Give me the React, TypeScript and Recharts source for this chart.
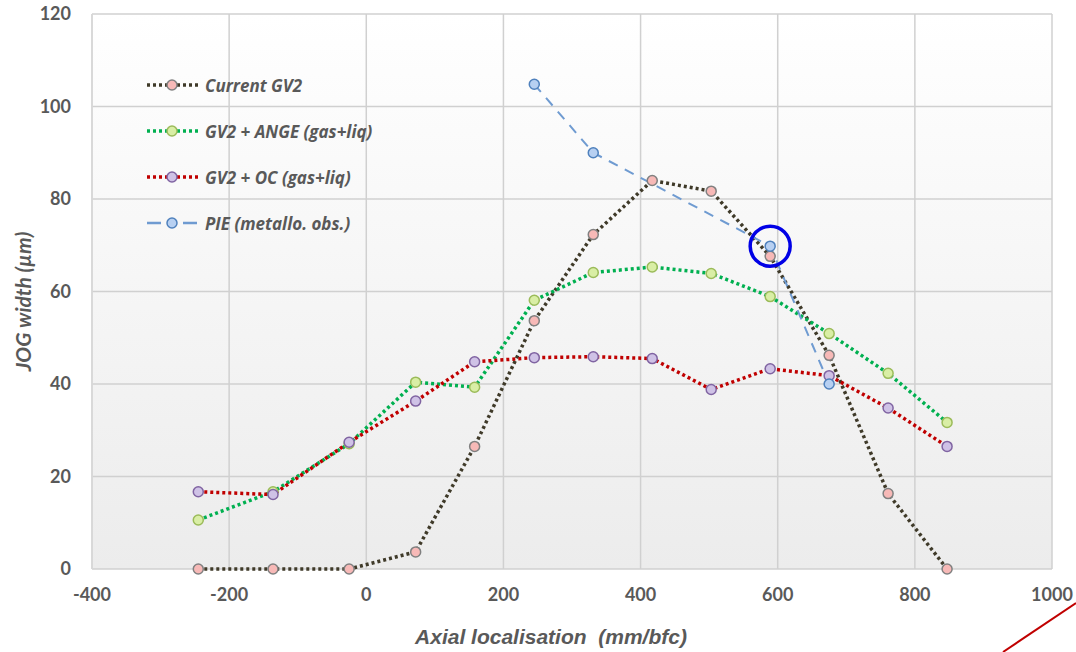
import React from 'react';
import {
  LineChart,
  Line,
  XAxis,
  YAxis,
  CartesianGrid,
  ReferenceDot,
  Label,
} from 'recharts';

const positions = [-245, -136, -25, 72, 158, 245, 331, 417, 503, 589, 675, 761, 847];
const currentGV2 = [0, 0, 0, 3.7, 26.5, 53.7, 72.3, 84, 81.7, 67.6, 46.2, 16.3, 0];
const angeGV2 = [10.6, 16.7, 27.1, 40.4, 39.3, 58.1, 64.1, 65.3, 63.9, 58.9, 50.9, 42.3, 31.7];
const ocGV2 = [16.7, 16.1, 27.4, 36.3, 44.8, 45.7, 45.9, 45.5, 38.8, 43.3, 41.8, 34.8, 26.5];
const piePositions = [245, 331, 589, 675];
const pieValues = [104.8, 90, 69.8, 40];
const highlightPos = 589;
const highlightVal = 69.8;

const xTicks = [-400, -200, 0, 200, 400, 600, 800, 1000];
const yTicks = [0, 20, 40, 60, 80, 100, 120];

const FONT = 'Lato, "Open Sans", sans-serif';
const LEGEND_FONT = '"Open Sans", Lato, sans-serif';
const ARIAL = '"Liberation Sans", Arial, sans-serif';
const TEXT = '#595959';

const toRows = (xs: number[], ys: number[]) => xs.map((x, i) => ({ x, y: ys[i] }));

const seriesList = [
  { name: 'Current GV2', data: toRows(positions, currentGV2), stroke: '#3f3a29', dash: '3 3', width: 3.5, fill: '#f7b9b7', dotStroke: '#808080' },
  { name: 'GV2 + ANGE (gas+liq)', data: toRows(positions, angeGV2), stroke: '#00b050', dash: '3 3', width: 3.5, fill: '#d9eea5', dotStroke: '#9bbb59' },
  { name: 'GV2 + OC (gas+liq)', data: toRows(positions, ocGV2), stroke: '#c00000', dash: '3 3', width: 3.5, fill: '#cfc2e6', dotStroke: '#8064a2' },
  { name: 'PIE (metallo. obs.)', data: toRows(piePositions, pieValues), stroke: '#6f9bd1', dash: '10 8', width: 2, fill: '#b7d0f2', dotStroke: '#4f81bd' },
];

const ChartLegend = () => (
  <div style={{ position: 'absolute', left: 145, top: 62, fontFamily: LEGEND_FONT }}>
    {seriesList.map((s) => {
      const dashed = s.name.startsWith('PIE');
      return (
        <div key={s.name} style={{ display: 'flex', alignItems: 'center', height: 46 }}>
          <svg width={58} height={14} style={{ marginRight: 2 }}>
            {dashed ? (
              <>
                <line x1={2} y1={7} x2={16} y2={7} stroke={s.stroke} strokeWidth={2.5} />
                <line x1={38} y1={7} x2={52} y2={7} stroke={s.stroke} strokeWidth={2.5} />
              </>
            ) : (
              <line x1={2} y1={7} x2={54} y2={7} stroke={s.stroke} strokeWidth={s.width} strokeDasharray="3 3" />
            )}
            <circle cx={27} cy={7} r={5} fill={s.fill} stroke={s.dotStroke} strokeWidth={1.5} />
          </svg>
          <span style={{ fontSize: 17, fontStyle: 'italic', fontWeight: 700, color: TEXT }}>{s.name}</span>
        </div>
      );
    })}
  </div>
);

export default function App() {
  return (
    <div style={{ position: 'absolute', left: 0, top: 0, width: 1076, height: 652, background: '#fff' }}>
      <LineChart width={1076} height={652} margin={{ top: 14, right: 24, bottom: 23, left: 12 }}>
        <defs>
          <linearGradient id="plotBg" x1="0" y1="0" x2="0" y2="1">
            <stop offset="0%" stopColor="#ffffff" />
            <stop offset="100%" stopColor="#ececec" />
          </linearGradient>
        </defs>
        <CartesianGrid stroke="#d0d0d0" strokeWidth={1.5} fill="url(#plotBg)" fillOpacity={1} />
        <XAxis
          type="number"
          dataKey="x"
          domain={[-400, 1000]}
          ticks={xTicks}
          height={60}
          tickSize={0}
          tickMargin={19}
          axisLine={false}
          tick={{ fill: TEXT, fontSize: 18, fontWeight: 700, fontFamily: FONT }}
        >
          <Label
            content={(props: any) => {
              const { x, y, width } = props.viewBox;
              return (
                <text x={x + width / 2 - 21} y={y + 67} textAnchor="middle" dominantBaseline="central"
                  fill={TEXT} fontSize={21} fontWeight={700} fontStyle="italic" fontFamily={ARIAL}
                  style={{ whiteSpace: 'pre' }}>
                  {'Axial localisation  (mm/bfc)'}
                </text>
              );
            }}
          />
        </XAxis>
        <YAxis
          type="number"
          domain={[0, 120]}
          ticks={yTicks}
          width={80}
          tickSize={0}
          tickMargin={21}
          axisLine={{ stroke: '#d9d9d9', strokeWidth: 1.5 }}
          tick={{ fill: TEXT, fontSize: 18, fontWeight: 700, fontFamily: FONT }}
        >
          <Label
            content={(props: any) => {
              const { x, y, height } = props.viewBox;
              const cx = x + 10;
              const cy = y + height / 2 + 10;
              return (
                <text x={cx} y={cy} transform={`rotate(-90, ${cx}, ${cy})`} textAnchor="middle" dominantBaseline="central"
                  fill={TEXT} fontSize={21} fontWeight={700} fontStyle="italic" fontFamily={FONT}>
                  JOG width (µm)
                </text>
              );
            }}
          />
        </YAxis>
        {seriesList.map((s) => (
          <Line
            key={s.name}
            data={s.data}
            dataKey="y"
            name={s.name}
            type="linear"
            stroke={s.stroke}
            strokeWidth={s.width}
            strokeDasharray={s.dash}
            dot={{ r: 5, fill: s.fill, stroke: s.dotStroke, strokeWidth: 1.5, strokeDasharray: 'none' }}
            activeDot={false}
            isAnimationActive={false}
          />
        ))}
        <ReferenceDot x={highlightPos} y={highlightVal} r={20} fill="none" stroke="#0000e6" strokeWidth={3.5} ifOverflow="visible" />
      </LineChart>
      <ChartLegend />
      <svg width={1076} height={652} style={{ position: 'absolute', left: 0, top: 0, pointerEvents: 'none' }}>
        <line x1={1003} y1={652} x2={1076} y2={603} stroke="#c00000" strokeWidth={2} />
      </svg>
    </div>
  );
}
